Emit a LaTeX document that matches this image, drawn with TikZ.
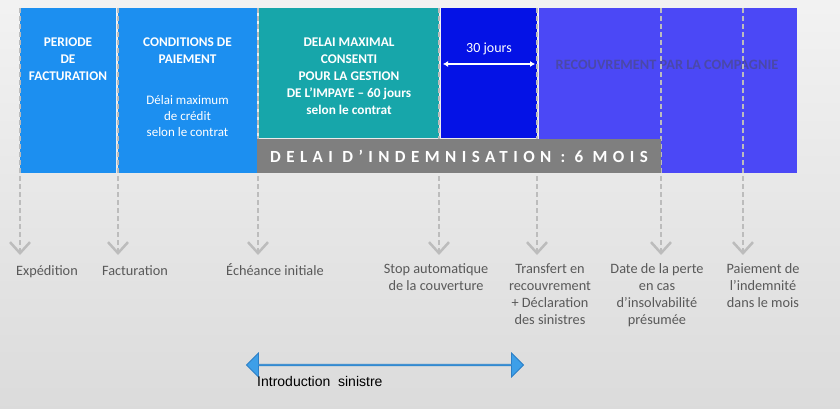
\documentclass[tikz,border=0pt]{standalone}
\usepackage{fontspec}
\setmainfont{Carlito}
\newfontfamily\arialfont{Liberation Sans}
\usepackage{tikz}
\usetikzlibrary{positioning,arrows.meta,shapes.arrows}
\definecolor{cLight}{HTML}{1C8FF0}
\definecolor{cTeal}{HTML}{17A6AA}
\definecolor{cDeep}{HTML}{0412E6}
\definecolor{cViolet}{HTML}{4B48F6}
\definecolor{cBar}{HTML}{7F7F7F}
\definecolor{cTick}{HTML}{BCBCBC}
\definecolor{cLbl}{HTML}{595959}
\definecolor{cRec}{HTML}{4A48A8}
\definecolor{cBig}{HTML}{3D9FE8}
\definecolor{cBigE}{HTML}{2C7FC6}
\tikzset{
  bx/.style={anchor=north west,inner sep=0pt,outer sep=0pt,draw=none},
  ttl/.style={text=white,font=\bfseries\fontsize{13.3}{17}\selectfont,align=center,inner sep=0pt,anchor=north,execute at begin node={\vphantom{É}}},
  sub/.style={text=white,font=\fontsize{13}{16}\selectfont,align=center,inner sep=0pt,anchor=north,execute at begin node={\vphantom{É}}},
  lbl/.style={text=cLbl,font=\fontsize{14.3}{17}\selectfont,align=center,inner sep=0pt,anchor=north,execute at begin node={\vphantom{É}}},
  tick/.style={draw=cTick,line width=2.5pt,dash pattern=on 5pt off 3pt,-{Straight Barb[length=11pt,width=20pt,line width=2.5pt]}},
  warr/.style={draw=white,line width=1.2pt,{Latex[length=5pt,width=6pt]}-{Latex[length=5pt,width=6pt]}}}

\begin{document}
\begin{tikzpicture}[x=1pt,y=-1pt]
\shade[top color=white!95!black,bottom color=white!86!black] (0,0) rectangle (840,409);
% top row of periods
\node[bx,fill=cLight,minimum width=96pt,minimum height=165pt] (perio) at (20,8) {};
\node[bx,fill=cLight,minimum width=139pt,minimum height=165pt,right=2pt of perio.north east,anchor=north west] (cond) {};
\node[bx,fill=cTeal,minimum width=180pt,minimum height=130pt,right=2pt of cond.north east,anchor=north west] (gest) {};
\node[bx,fill=cDeep,minimum width=96pt,minimum height=130pt,right=2pt of gest.north east,anchor=north west] (trente) {};
\node[bx,fill=cViolet,minimum width=258pt,minimum height=165pt,right=2pt of trente.north east,anchor=north west] (recouv) {};
\node[ttl,below=30pt of perio.north] (tPerio) {PERIODE\\DE\\FACTURATION};
\node[ttl,below=30pt of cond.north] (tCond) {CONDITIONS DE\\PAIEMENT};
\node[sub,below=87pt of cond.north] (tDelai) {Délai maximum\\de crédit\\selon le contrat};
\node[ttl,below=30pt of gest.north] (tGest) {DELAI MAXIMAL\\CONSENTI\\POUR LA GESTION\\DE L’IMPAYE – 60 jours\\selon le contrat};
\node[sub,font=\fontsize{14}{16}\selectfont,below=33pt of trente.north] (tTrente) {30 jours};
\coordinate[below=56pt of trente.north west,xshift=2pt] (j1);
\coordinate[below=56pt of trente.north east,xshift=-2pt] (j2);
\draw[warr] (j1) -- (j2);
\node[text=cRec,font=\bfseries\fontsize{14.3}{16}\selectfont,inner sep=0pt] (tRec) at (667,65) {RECOUVREMENT PAR LA COMPAGNIE};
% dashed markers
\foreach \x/\n in {20/1,118/2,258/3,439/4,537/5,661/6,743/7}{
  \coordinate (tk\n) at (\x,8);
  \coordinate (tp\n) at (\x,255);
  \draw[tick] (tk\n) -- (tp\n);
}
\node[bx,fill=cBar,minimum width=404pt,minimum height=34pt,anchor=south west] (indem) at (cond.south east) {};
\node[text=white,font=\bfseries\fontsize{17}{18}\selectfont\addfontfeature{LetterSpace=32},inner sep=0pt] (tIndem) at (indem.center) {DELAI D’INDEMNISATION : 6 MOIS};
% labels
\node[lbl] (lExp) at (47,263) {Expédition};
\node[lbl] (lFac) at (135,263) {Facturation};
\node[lbl] (lEch) at (275,263) {Échéance initiale};
\node[lbl] (lStop) at (436,263) {Stop automatique\\de la couverture};
\node[lbl] (lTrans) at (550,263) {Transfert en\\recouvrement\\+ Déclaration\\des sinistres};
\node[lbl] (lDate) at (657,263) {Date de la perte\\en cas\\d’insolvabilité\\présumée};
\node[lbl] (lPaie) at (763,263) {Paiement de\\l’indemnité\\dans le mois};
% bottom arrow
\node[double arrow,fill=cBig,draw=cBigE,line width=0.8pt,minimum width=24pt,double arrow head extend=6pt,minimum height=277pt,inner sep=0pt] (intro) at (385,365) {};
\node[font=\arialfont\fontsize{14}{16}\selectfont,anchor=west,inner sep=0pt] (tIntro) at (257,381) {Introduction\ \ sinistre};
\end{tikzpicture}
\end{document}
